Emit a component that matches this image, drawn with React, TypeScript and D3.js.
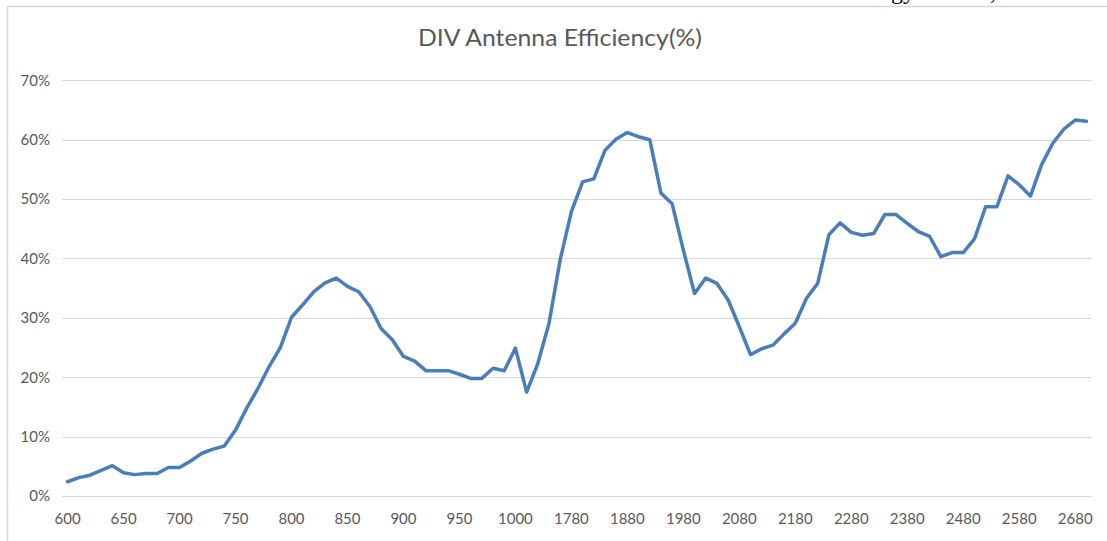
import * as d3 from "d3";
import React, { useEffect, useRef } from "react";

// Low band 600-1000 MHz step 10, high band 1700-2700 MHz step 20
const lowBand = [600, 610, 620, 630, 640, 650, 660, 670, 680, 690, 700, 710, 720, 730, 740, 750, 760, 770, 780, 790, 800, 810, 820, 830, 840, 850, 860, 870, 880, 890, 900, 910, 920, 930, 940, 950, 960, 970, 980, 990, 1000];
const highBand = [1700, 1720, 1740, 1760, 1780, 1800, 1820, 1840, 1860, 1880, 1900, 1920, 1940, 1960, 1980, 2000, 2020, 2040, 2060, 2080, 2100, 2120, 2140, 2160, 2180, 2200, 2220, 2240, 2260, 2280, 2300, 2320, 2340, 2360, 2380, 2400, 2420, 2440, 2460, 2480, 2500, 2520, 2540, 2560, 2580, 2600, 2620, 2640, 2660, 2680, 2700];

const lowEff = [2.4, 3.1, 3.5, 4.3, 5.1, 3.9, 3.6, 3.8, 3.8, 4.8, 4.8, 5.9, 7.2, 7.9, 8.4, 11.1, 14.8, 18.1, 21.8, 25.0, 30.1, 32.2, 34.4, 35.9, 36.7, 35.3, 34.4, 31.9, 28.2, 26.3, 23.5, 22.7, 21.1, 21.1, 21.1, 20.5, 19.8, 19.8, 21.5, 21.1, 24.9];
const highEff = [17.5, 22.3, 29.1, 39.8, 47.9, 52.9, 53.4, 58.2, 60.1, 61.2, 60.5, 60.0, 51.0, 49.2, 41.4, 34.1, 36.7, 35.8, 33.0, 28.5, 23.8, 24.8, 25.4, 27.3, 29.1, 33.3, 35.8, 44.0, 46.0, 44.4, 43.9, 44.2, 47.4, 47.4, 45.9, 44.5, 43.7, 40.3, 41.0, 41.0, 43.3, 48.7, 48.7, 53.9, 52.4, 50.5, 55.8, 59.4, 61.8, 63.3, 63.1];

const yTicks = [0, 10, 20, 30, 40, 50, 60, 70];

const categories = [...lowBand, ...highBand].map(String);
const values = [...lowEff, ...highEff];

export default function App() {
  const svgRef = useRef<SVGSVGElement>(null);

  useEffect(() => {
    const svg = d3.select(svgRef.current);
    svg.selectAll("*").remove();

    const width = 1107;
    const height = 541;
    const plot = { left: 62, right: 1092, top: 80.3, bottom: 496 };
    const textColor = "#595959";
    const gridColor = "#d9d9d9";
    const font = "Lato, 'Open Sans', sans-serif";

    svg.append("rect").attr("width", width).attr("height", height).attr("fill", "#fff");

    // chart frame (cropped, only top and left edges visible)
    svg.append("line")
      .attr("x1", 7).attr("x2", width).attr("y1", 6.5).attr("y2", 6.5)
      .attr("stroke", gridColor).attr("stroke-width", 1.5);
    svg.append("line")
      .attr("x1", 7.5).attr("x2", 7.5).attr("y1", 6).attr("y2", height)
      .attr("stroke", gridColor).attr("stroke-width", 1.5);

    // fragments of the surrounding document text, clipped at the top
    svg.append("text")
      .attr("x", 891).attr("y", -1)
      .style("font-family", "'Liberation Serif', serif").style("font-size", "24px")
      .attr("fill", "#000").text("gy");
    svg.append("text")
      .attr("x", 990).attr("y", -1)
      .style("font-family", "'Liberation Serif', serif").style("font-size", "24px")
      .attr("fill", "#000").text(",");

    const xScale = d3.scaleBand<string>()
      .domain(categories)
      .range([plot.left, plot.right])
      .padding(0);

    const yScale = d3.scaleLinear()
      .domain([0, 70])
      .range([plot.bottom, plot.top]);

    const cx = (c: string) => (xScale(c) as number) + xScale.bandwidth() / 2;

    // Grid lines
    svg.append("g")
      .selectAll("line")
      .data(yTicks)
      .join("line")
      .attr("x1", plot.left).attr("x2", plot.right)
      .attr("y1", d => Math.round(yScale(d)) + 0.5)
      .attr("y2", d => Math.round(yScale(d)) + 0.5)
      .attr("stroke", gridColor)
      .attr("stroke-width", 1);

    // Y labels
    svg.append("g")
      .selectAll("text")
      .data(yTicks)
      .join("text")
      .attr("x", 50)
      .attr("y", d => yScale(d))
      .attr("dy", "0.36em")
      .attr("text-anchor", "end")
      .attr("fill", textColor)
      .style("font-family", font)
      .style("font-size", "15px")
      .text(d => `${d}%`);

    // X labels every 5th category
    svg.append("g")
      .selectAll("text")
      .data(categories.filter((_, i) => i % 5 === 0))
      .join("text")
      .attr("x", d => cx(d))
      .attr("y", 524)
      .attr("text-anchor", "middle")
      .attr("fill", textColor)
      .style("font-family", font)
      .style("font-size", "15px")
      .text(d => d);

    // Title
    svg.append("text")
      .attr("x", 560)
      .attr("y", 46)
      .attr("text-anchor", "middle")
      .attr("fill", textColor)
      .style("font-family", font)
      .style("font-size", "23px")
      .attr("textLength", 284)
      .attr("lengthAdjust", "spacingAndGlyphs")
      .text("DIV Antenna Efficiency(%)");

    // Line
    const line = d3.line<number>()
      .x((_, i) => cx(categories[i]))
      .y(d => yScale(d));

    svg.append("path")
      .datum(values)
      .attr("fill", "none")
      .attr("stroke", "#4a7ebb")
      .attr("stroke-width", 3.5)
      .attr("stroke-linejoin", "round")
      .attr("stroke-linecap", "round")
      .attr("d", line);
  }, []);

  return (
    <div style={{ position: "absolute", left: 0, top: 0 }}>
      <svg ref={svgRef} width={1107} height={541} style={{ display: "block" }}></svg>
    </div>
  );
}
